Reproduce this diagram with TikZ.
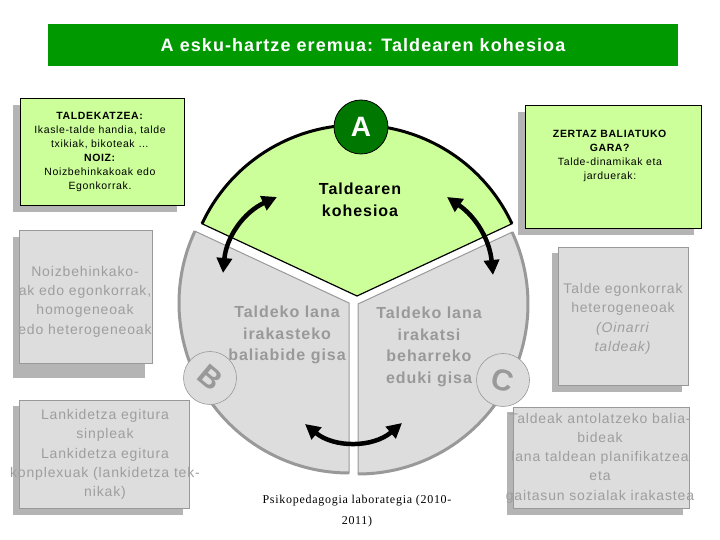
\documentclass[tikz,border=0pt]{standalone}
\usepackage{fontspec}
\setmainfont{Liberation Sans}[LetterSpace=6]
\newfontfamily\creditfont{Liberation Serif}[LetterSpace=6]
\usepackage{tikz}
\usetikzlibrary{arrows.meta}
\definecolor{bannergreen}{RGB}{0,153,0}
\definecolor{leafgreen}{RGB}{204,255,153}
\definecolor{agreen}{RGB}{0,119,0}
\definecolor{panelgray}{RGB}{221,221,221}
\definecolor{edgegray}{RGB}{153,153,153}
\definecolor{inkgray}{RGB}{158,158,158}
\definecolor{shadegray}{RGB}{180,180,180}
\newcommand{\fsz}[2]{\fontsize{#1}{#2}\selectfont}
\tikzset{
  banner/.style     = {fill=bannergreen, text=white, inner sep=0pt,
                       font=\bfseries\fsz{18}{22}},
  greenbox/.style   = {draw=black, fill=leafgreen, line width=0.8pt, inner sep=0pt},
  graybox/.style    = {draw=edgegray, fill=panelgray, line width=0.8pt, inner sep=0pt},
  boxshade/.style   = {fill=shadegray},
  greentext/.style  = {align=center, inner sep=0pt, font=\fsz{10.5}{14}},
  graytext/.style   = {align=center, inner sep=0pt, text=inkgray, font=\fsz{14}{19.3}},
  sectortext/.style = {align=center, inner sep=0pt, font=\bfseries\fsz{16}{21.5}},
  sectoredge/.style = {draw=edgegray, line width=1pt, fill=panelgray},
  sectorrim/.style  = {draw=edgegray, line width=3pt},
  letterdisc/.style = {circle, draw=edgegray, fill=panelgray, line width=0.6pt,
                       minimum size=53pt, inner sep=0pt},
  discletter/.style = {text=edgegray, inner sep=0pt, font=\bfseries\fsz{30}{30}},
  swing/.style      = {{Triangle[length=15pt,width=15pt]}-{Triangle[length=15pt,width=15pt]},
                       line width=4.5pt, black}
}

\begin{document}
\begin{tikzpicture}[x=1pt,y=1pt]
  \useasboundingbox (0,0) rectangle (720,540);
  \node[banner, minimum width=630pt, minimum height=42pt] (title) at (363,495)
        {A esku-hartze eremua: Taldearen kohesioa};

  % side boxes
  \path[boxshade] (13,328) rectangle (177,435);
  \node[greenbox, minimum width=164pt, minimum height=107pt] (grouping) at (102,388.5) {};
  \node[greentext] (groupingtxt) at (100,388)
        {\textbf{TALDEKATZEA:}\\Ikasle-talde handia, talde\\txikiak, bikoteak …\\
         \textbf{NOIZ:}\\Noizbehinkakoak edo\\Egonkorrak.};
  \path[boxshade] (518,305) rectangle (694,428);
  \node[greenbox, minimum width=176pt, minimum height=123pt] (means) at (613,373.5) {};
  \node[greentext] (meanstxt) at (610,384)
        {\textbf{ZERTAZ BALIATUKO}\\\textbf{GARA?}\\Talde-dinamikak eta\\jarduerak:};
  \path[boxshade] (13,162) rectangle (145,303);
  \node[graybox, minimum width=133pt, minimum height=133pt] (kinds) at (85.5,243.5) {};
  \node[graytext] (kindstxt) at (85,238.5)
        {Noizbehinkako-\\ak edo egonkorrak,\\homogeneoak\\edo heterogeneoak};
  \path[boxshade] (13,25) rectangle (183,134);
  \node[graybox, minimum width=170pt, minimum height=108pt] (frames) at (104,86) {};
  \node[graytext] (framestxt) at (105,85.5)
        {Lankidetza egitura\\sinpleak\\Lankidetza egitura\\konplexuak (lankidetza tek-\\nikak)};
  \path[boxshade] (552,148) rectangle (682,287);
  \node[graybox, minimum width=130pt, minimum height=138pt] (stable) at (623,224) {};
  \node[graytext] (stabletxt) at (623,221)
        {Talde egonkorrak\\heterogeneoak\\\textit{(Oinarri}\\\textit{taldeak)}};
  \path[boxshade] (507,25) rectangle (683,128);
  \node[graybox, minimum width=176pt, minimum height=101pt] (tools) at (601,82.5) {};
  \node[graytext] (toolstxt) at (600,82)
        {Taldeak antolatzeko balia-\\bideak\\lana taldean planifikatzea\\eta\\gaitasun sozialak irakastea};

  % the three sectors
  \coordinate (ga) at (357,244);
  \coordinate (gb) at (349,237);
  \coordinate (gc) at (358,236);
  \path[sectoredge] (gb) -- ++(155:170) arc[start angle=155, end angle=270, radius=170] -- cycle;
  \draw[sectorrim] (gb) ++(155:170) arc[start angle=155, end angle=270, radius=170];
  \path[sectoredge] (gc) -- ++(-90:170) arc[start angle=-90, end angle=25, radius=170] -- cycle;
  \draw[sectorrim] (gc) ++(-90:170) arc[start angle=-90, end angle=25, radius=170];
  \draw[fill=leafgreen, line width=1.2pt] (ga) -- ++(25:171)
        arc[start angle=25, end angle=155, radius=171] -- cycle;
  \draw[line width=3pt] (ga) ++(25:171) arc[start angle=25, end angle=155, radius=171];

  % arrows between the sectors
  \coordinate (l1) at (223,267);
  \coordinate (l2) at (277,343);
  \coordinate (r1) at (447,343);
  \coordinate (r2) at (493,265);
  \coordinate (m1) at (305,116);
  \coordinate (m2) at (402,117);
  \draw[swing] (l1) to[bend left=30] (l2);
  \draw[swing] (r1) to[bend left=25] (r2);
  \draw[swing] (m1) to[bend right=40] (m2);

  % letter discs
  \node[circle, draw=black, fill=agreen, line width=0.8pt, minimum size=54pt,
        inner sep=0pt, text=white, font=\bfseries\fsz{28}{28}] (adisc) at (361,413) {A};
  \node[letterdisc] (bdisc) at (210,162) {};
  \node[discletter, rotate=-40] (bletter) at (bdisc) {B};
  \node[letterdisc] (cdisc) at (503,160) {};
  \node[discletter, rotate=-15] (cletter) at (cdisc) {C};

  \node[sectortext] (cohesion) at (360,340) {Taldearen\\kohesioa};
  \node[sectortext, text=edgegray] (toolsec) at (287,205)
        {Taldeko lana\\irakasteko\\baliabide gisa};
  \node[sectortext, text=edgegray] (contentsec) at (429,193)
        {Taldeko lana\\irakatsi\\beharreko\\eduki gisa};

  \node[align=center, font=\creditfont\fsz{12}{21}] (credit) at (357,29)
        {Psikopedagogia laborategia (2010-\\2011)};
\end{tikzpicture}
\end{document}
